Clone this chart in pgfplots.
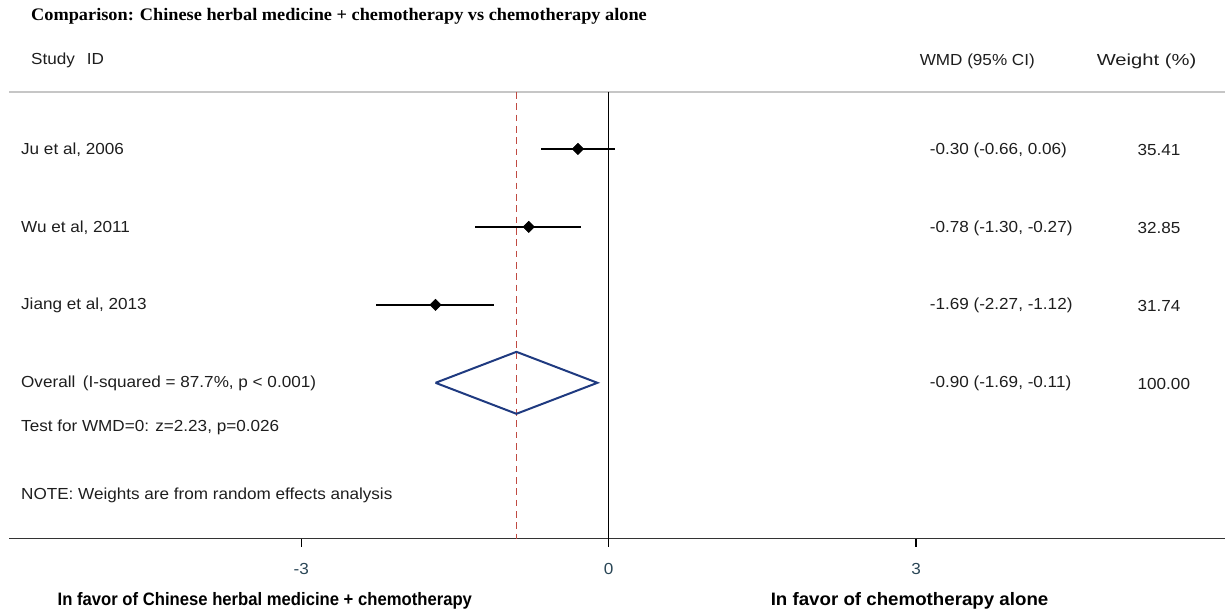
\documentclass[border=0pt]{standalone}
\usepackage{pgfplots}
\pgfplotsset{compat=1.18}
\usepackage{fontspec}
\setmainfont{Liberation Sans}
\newfontfamily\titlefont{Liberation Serif}
\definecolor{txt}{HTML}{1E1E1E}
\definecolor{tickcol}{HTML}{2A4656}
\definecolor{navy}{HTML}{1F3A80}
\definecolor{refred}{HTML}{C04A42}

\tikzset{
  lab/.style={font=\fontsize{12}{14}\selectfont, text=txt, inner sep=0pt,
    xscale=1.07, transform shape},
  side/.style={font=\bfseries\fontsize{13.5}{15}\selectfont, text=black, inner sep=0pt,
    xscale=#1, transform shape}
}

% study rows: estimate, lower, upper, row (pixel y)
\pgfplotstableread{
est lo hi y
-0.30 -0.66 0.06 149
-0.78 -1.30 -0.27 227
-1.69 -2.27 -1.12 305
}\studies

\begin{document}
\begin{tikzpicture}
\begin{axis}[
    width=919.5pt, height=460.5pt, scale only axis,
    xmin=-5.941, xmax=6.020, ymin=0, ymax=614, y dir=reverse,
    axis lines=none, clip=false
  ]
  % picture extent
  \path (axis cs:-5.941,0) rectangle (axis cs:6.020,614);
  % frame lines
  \draw[gray!45, line width=0.9pt] (axis cs:-5.85,92) -- (axis cs:6.02,92);
  \draw[black!80, line width=0.9pt] (axis cs:-5.85,539) -- (axis cs:6.02,539);
  \draw[black, line width=0.9pt] (axis cs:0,92) -- (axis cs:0,547);
  \draw[black, line width=0.9pt] (axis cs:-3,539) -- (axis cs:-3,547);
  \draw[black, line width=0.9pt] (axis cs:3,539) -- (axis cs:3,547);
  \node[lab, text=tickcol] at (axis cs:-3,569) {-3};
  \node[lab, text=tickcol] at (axis cs:0,569) {0};
  \node[lab, text=tickcol] at (axis cs:3,569) {3};

  % overall estimate line
  \addplot[refred, line width=1.1pt, dash pattern=on 5pt off 3.5pt] coordinates {(-0.90,92) (-0.90,539)};

  % confidence intervals
  \addplot[black, line width=1.6pt] coordinates {(-0.66,149) (0.06,149)};
  \addplot[black, line width=1.6pt] coordinates {(-1.30,227) (-0.27,227)};
  \addplot[black, line width=1.6pt] coordinates {(-2.27,305) (-1.12,305)};
  % point estimates
  \addplot[only marks, mark=square*, mark size=3pt, mark options={rotate=45}, black] table[x=est, y=y] {\studies};

  % pooled diamond
  \addplot[navy, line width=1.5pt] coordinates {(-1.69,383) (-0.90,352) (-0.11,383) (-0.90,414) (-1.69,383)};

  % texts
  \node[anchor=west, font={\titlefont\bfseries\fontsize{13.2}{15}\selectfont}, text=black,
        inner sep=0pt, xscale=1.04, transform shape] at (axis cs:-5.639,16)
    {Comparison: Chinese herbal medicine + chemotherapy vs chemotherapy alone};
  \node[lab, anchor=west] at (axis cs:-5.639,60) {Study\hspace{5pt} ID};
  \node[lab, anchor=west] at (axis cs:3.034,61) {WMD (95\% CI)};
  \node[lab, anchor=west, xscale=1.18] at (axis cs:4.761,61) {Weight (\%)};

  \node[lab, anchor=west] at (axis cs:-5.737,150) {Ju et al, 2006};
  \node[lab, anchor=west] at (axis cs:-5.737,228) {Wu et al, 2011};
  \node[lab, anchor=west] at (axis cs:-5.737,306) {Jiang et al, 2013};
  \node[lab, anchor=west] at (axis cs:-5.737,384) {Overall\, (I-squared = 87.7\%, p < 0.001)};
  \node[lab, anchor=west] at (axis cs:-5.737,428) {Test for WMD=0: z=2.23, p=0.026};
  \node[lab, anchor=west] at (axis cs:-5.737,496) {NOTE: Weights are from random effects analysis};

  \node[lab, anchor=west] at (axis cs:3.132,150) {-0.30 (-0.66, 0.06)};
  \node[lab, anchor=west] at (axis cs:3.132,228) {-0.78 (-1.30, -0.27)};
  \node[lab, anchor=west] at (axis cs:3.132,306) {-1.69 (-2.27, -1.12)};
  \node[lab, anchor=west] at (axis cs:3.132,384) {-0.90 (-1.69, -0.11)};
  \node[lab, anchor=west] at (axis cs:5.161,150) {35.41};
  \node[lab, anchor=west] at (axis cs:5.161,228) {32.85};
  \node[lab, anchor=west] at (axis cs:5.161,306) {31.74};
  \node[lab, anchor=west] at (axis cs:5.161,384) {100.00};

  \node[side=0.926] at (axis cs:-3.356,601)
    {In favor of Chinese herbal medicine + chemotherapy};
  \node[side=1.04] at (axis cs:2.937,601)
    {In favor of chemotherapy alone};
\end{axis}
\end{tikzpicture}
\end{document}
